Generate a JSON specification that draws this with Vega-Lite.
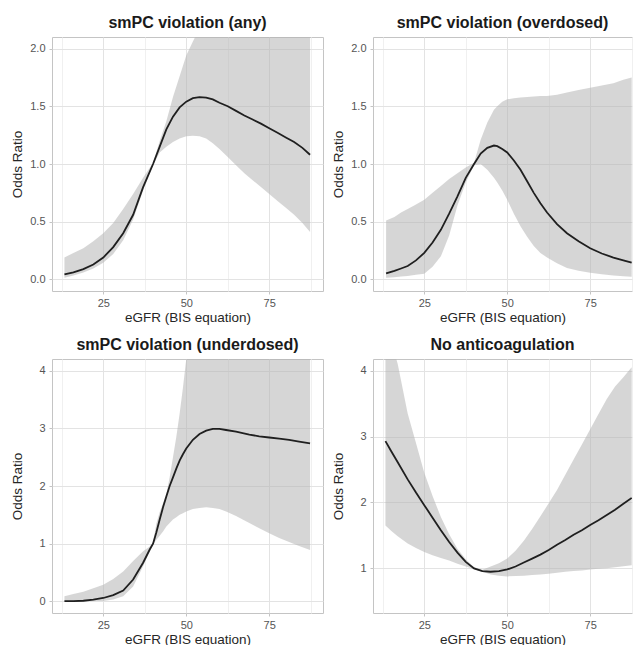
{
  "$schema": "https://vega.github.io/schema/vega-lite/v6.json",
  "padding": {"left": 9, "top": 14, "right": 0, "bottom": 0},
  "background": "white",
  "config": {
    "font": "Liberation Sans",
    "view": {"stroke": "#C4C4C4", "strokeWidth": 1},
    "axis": {"domain": false, "tickColor": "#C4C4C4", "tickSize": 3, "labelFontSize": 11, "labelColor": "#555555", "titleFontSize": 13.5, "titleFontWeight": "normal", "titleColor": "#262626", "labelOverlap": false},
    "axisX": {"labelPadding": 3, "titlePadding": 3, "minExtent": 16, "maxExtent": 16, "labelFlush": false},
    "axisY": {"labelPadding": 4, "titlePadding": 4, "minExtent": 24, "maxExtent": 24},
    "title": {"fontSize": 16, "fontWeight": "bold", "color": "#1a1a1a", "offset": 6}
  },
  "datasets": {
    "any": [
      {"eGFR": 13.3, "or": 0.043, "lo": 0.015, "hi": 0.19},
      {"eGFR": 16, "or": 0.062, "lo": 0.035, "hi": 0.23},
      {"eGFR": 19, "or": 0.09, "lo": 0.06, "hi": 0.27},
      {"eGFR": 22, "or": 0.13, "lo": 0.095, "hi": 0.33},
      {"eGFR": 25, "or": 0.19, "lo": 0.145, "hi": 0.40},
      {"eGFR": 28, "or": 0.28, "lo": 0.22, "hi": 0.49},
      {"eGFR": 31, "or": 0.40, "lo": 0.34, "hi": 0.61},
      {"eGFR": 34, "or": 0.56, "lo": 0.52, "hi": 0.74},
      {"eGFR": 37, "or": 0.80, "lo": 0.77, "hi": 0.88},
      {"eGFR": 40, "or": 1.0, "lo": 0.99, "hi": 1.01},
      {"eGFR": 42, "or": 1.15, "lo": 1.10, "hi": 1.20},
      {"eGFR": 44, "or": 1.30, "lo": 1.15, "hi": 1.37},
      {"eGFR": 46, "or": 1.41, "lo": 1.19, "hi": 1.58},
      {"eGFR": 48, "or": 1.49, "lo": 1.22, "hi": 1.76},
      {"eGFR": 50, "or": 1.54, "lo": 1.24, "hi": 1.94},
      {"eGFR": 52, "or": 1.57, "lo": 1.245, "hi": 2.06},
      {"eGFR": 54, "or": 1.58, "lo": 1.24, "hi": 2.18},
      {"eGFR": 56, "or": 1.575, "lo": 1.22, "hi": 2.3},
      {"eGFR": 58, "or": 1.56, "lo": 1.18, "hi": 2.42},
      {"eGFR": 60, "or": 1.53, "lo": 1.13, "hi": 2.55},
      {"eGFR": 62.5, "or": 1.50, "lo": 1.06, "hi": 2.7},
      {"eGFR": 65, "or": 1.46, "lo": 0.99, "hi": 2.85},
      {"eGFR": 67.5, "or": 1.42, "lo": 0.92, "hi": 3.0},
      {"eGFR": 70, "or": 1.385, "lo": 0.86, "hi": 3.15},
      {"eGFR": 72.5, "or": 1.35, "lo": 0.80, "hi": 3.3},
      {"eGFR": 75, "or": 1.31, "lo": 0.74, "hi": 3.45},
      {"eGFR": 77.5, "or": 1.27, "lo": 0.68, "hi": 3.6},
      {"eGFR": 80, "or": 1.23, "lo": 0.62, "hi": 3.75},
      {"eGFR": 82.5, "or": 1.19, "lo": 0.56, "hi": 3.9},
      {"eGFR": 85, "or": 1.14, "lo": 0.49, "hi": 4.05},
      {"eGFR": 87.3, "or": 1.08, "lo": 0.41, "hi": 4.2}
    ],
    "over": [
      {"eGFR": 13.5, "or": 0.052, "lo": 0.015, "hi": 0.51},
      {"eGFR": 16, "or": 0.075, "lo": 0.02, "hi": 0.54},
      {"eGFR": 18, "or": 0.095, "lo": 0.025, "hi": 0.58},
      {"eGFR": 20, "or": 0.116, "lo": 0.03, "hi": 0.61},
      {"eGFR": 22.5, "or": 0.165, "lo": 0.04, "hi": 0.65},
      {"eGFR": 25, "or": 0.23, "lo": 0.05, "hi": 0.69},
      {"eGFR": 27.5, "or": 0.32, "lo": 0.11, "hi": 0.75},
      {"eGFR": 30, "or": 0.43, "lo": 0.20, "hi": 0.81},
      {"eGFR": 32.5, "or": 0.57, "lo": 0.38, "hi": 0.87},
      {"eGFR": 35, "or": 0.72, "lo": 0.64, "hi": 0.92},
      {"eGFR": 37.5, "or": 0.88, "lo": 0.84, "hi": 0.97},
      {"eGFR": 40, "or": 1.0, "lo": 0.99, "hi": 1.01},
      {"eGFR": 42, "or": 1.09, "lo": 1.0, "hi": 1.21},
      {"eGFR": 44, "or": 1.14, "lo": 0.95, "hi": 1.36},
      {"eGFR": 46, "or": 1.16, "lo": 0.88, "hi": 1.47},
      {"eGFR": 47, "or": 1.155, "lo": 0.84, "hi": 1.50},
      {"eGFR": 48.5, "or": 1.13, "lo": 0.77, "hi": 1.54},
      {"eGFR": 50, "or": 1.10, "lo": 0.69, "hi": 1.56},
      {"eGFR": 52, "or": 1.03, "lo": 0.57, "hi": 1.57},
      {"eGFR": 54, "or": 0.95, "lo": 0.46, "hi": 1.575},
      {"eGFR": 56, "or": 0.85, "lo": 0.37, "hi": 1.58},
      {"eGFR": 58, "or": 0.75, "lo": 0.29, "hi": 1.585},
      {"eGFR": 60, "or": 0.66, "lo": 0.23, "hi": 1.59},
      {"eGFR": 62, "or": 0.58, "lo": 0.19, "hi": 1.59},
      {"eGFR": 65, "or": 0.48, "lo": 0.14, "hi": 1.60},
      {"eGFR": 68, "or": 0.40, "lo": 0.10, "hi": 1.62},
      {"eGFR": 71.5, "or": 0.33, "lo": 0.075, "hi": 1.64},
      {"eGFR": 75, "or": 0.27, "lo": 0.058, "hi": 1.66},
      {"eGFR": 78.5, "or": 0.225, "lo": 0.045, "hi": 1.68},
      {"eGFR": 82, "or": 0.19, "lo": 0.035, "hi": 1.70},
      {"eGFR": 85, "or": 0.165, "lo": 0.028, "hi": 1.73},
      {"eGFR": 87.5, "or": 0.145, "lo": 0.023, "hi": 1.75}
    ],
    "under": [
      {"eGFR": 13.3, "or": 0.005, "lo": 0.0, "hi": 0.09},
      {"eGFR": 16, "or": 0.007, "lo": 0.0, "hi": 0.13},
      {"eGFR": 19, "or": 0.012, "lo": 0.003, "hi": 0.17},
      {"eGFR": 22, "or": 0.03, "lo": 0.006, "hi": 0.23},
      {"eGFR": 25, "or": 0.06, "lo": 0.01, "hi": 0.29},
      {"eGFR": 28, "or": 0.11, "lo": 0.035, "hi": 0.39},
      {"eGFR": 31, "or": 0.19, "lo": 0.09, "hi": 0.52},
      {"eGFR": 34, "or": 0.38, "lo": 0.26, "hi": 0.70},
      {"eGFR": 37, "or": 0.67, "lo": 0.61, "hi": 0.87},
      {"eGFR": 39, "or": 0.9, "lo": 0.88, "hi": 0.95},
      {"eGFR": 40, "or": 1.0, "lo": 0.99, "hi": 1.03},
      {"eGFR": 41, "or": 1.2, "lo": 1.07, "hi": 1.35},
      {"eGFR": 42, "or": 1.42, "lo": 1.14, "hi": 1.55},
      {"eGFR": 43, "or": 1.63, "lo": 1.21, "hi": 1.7},
      {"eGFR": 44, "or": 1.82, "lo": 1.30, "hi": 1.86},
      {"eGFR": 45, "or": 2.0, "lo": 1.36, "hi": 2.15},
      {"eGFR": 46, "or": 2.15, "lo": 1.42, "hi": 2.5},
      {"eGFR": 47, "or": 2.3, "lo": 1.46, "hi": 2.85},
      {"eGFR": 48, "or": 2.44, "lo": 1.50, "hi": 3.25},
      {"eGFR": 49, "or": 2.55, "lo": 1.53, "hi": 3.7},
      {"eGFR": 50, "or": 2.65, "lo": 1.56, "hi": 4.2},
      {"eGFR": 52, "or": 2.8, "lo": 1.60, "hi": 5.2},
      {"eGFR": 54, "or": 2.9, "lo": 1.62, "hi": 6.0},
      {"eGFR": 56, "or": 2.96, "lo": 1.63, "hi": 6.5},
      {"eGFR": 58, "or": 2.99, "lo": 1.62, "hi": 7.0},
      {"eGFR": 60, "or": 2.99, "lo": 1.60, "hi": 7.3},
      {"eGFR": 62, "or": 2.97, "lo": 1.56, "hi": 7.5},
      {"eGFR": 65, "or": 2.94, "lo": 1.48, "hi": 7.7},
      {"eGFR": 69, "or": 2.89, "lo": 1.36, "hi": 8.0},
      {"eGFR": 72, "or": 2.86, "lo": 1.27, "hi": 8.2},
      {"eGFR": 75, "or": 2.84, "lo": 1.18, "hi": 8.4},
      {"eGFR": 78, "or": 2.82, "lo": 1.10, "hi": 8.6},
      {"eGFR": 81, "or": 2.80, "lo": 1.03, "hi": 8.8},
      {"eGFR": 84, "or": 2.77, "lo": 0.96, "hi": 9.0},
      {"eGFR": 87.3, "or": 2.74, "lo": 0.89, "hi": 9.2}
    ],
    "noac": [
      {"eGFR": 13.3, "or": 2.93, "lo": 1.65, "hi": 4.8},
      {"eGFR": 15, "or": 2.78, "lo": 1.57, "hi": 4.45},
      {"eGFR": 17, "or": 2.61, "lo": 1.49, "hi": 4.1},
      {"eGFR": 20, "or": 2.35, "lo": 1.38, "hi": 3.35},
      {"eGFR": 22.5, "or": 2.15, "lo": 1.31, "hi": 2.9},
      {"eGFR": 25, "or": 1.96, "lo": 1.25, "hi": 2.45},
      {"eGFR": 27.5, "or": 1.77, "lo": 1.2, "hi": 2.1},
      {"eGFR": 30, "or": 1.58, "lo": 1.16, "hi": 1.78},
      {"eGFR": 32.5, "or": 1.4, "lo": 1.12, "hi": 1.52},
      {"eGFR": 35, "or": 1.24, "lo": 1.07, "hi": 1.3},
      {"eGFR": 37.5, "or": 1.1, "lo": 1.03, "hi": 1.14},
      {"eGFR": 40, "or": 1.0, "lo": 0.99, "hi": 1.02},
      {"eGFR": 42.5, "or": 0.96, "lo": 0.95, "hi": 0.98},
      {"eGFR": 45, "or": 0.95, "lo": 0.91, "hi": 1.03},
      {"eGFR": 47.5, "or": 0.96, "lo": 0.89, "hi": 1.08},
      {"eGFR": 50, "or": 0.985, "lo": 0.88, "hi": 1.15},
      {"eGFR": 52.5, "or": 1.03, "lo": 0.885, "hi": 1.27},
      {"eGFR": 55, "or": 1.09, "lo": 0.89, "hi": 1.42},
      {"eGFR": 57.5, "or": 1.15, "lo": 0.9, "hi": 1.6},
      {"eGFR": 60, "or": 1.21, "lo": 0.91, "hi": 1.79},
      {"eGFR": 62.5, "or": 1.28, "lo": 0.92, "hi": 1.99},
      {"eGFR": 65, "or": 1.36, "lo": 0.935, "hi": 2.19},
      {"eGFR": 67.5, "or": 1.43, "lo": 0.95, "hi": 2.42},
      {"eGFR": 70, "or": 1.51, "lo": 0.96, "hi": 2.65},
      {"eGFR": 72.5, "or": 1.58, "lo": 0.97, "hi": 2.88},
      {"eGFR": 75, "or": 1.66, "lo": 0.985, "hi": 3.11},
      {"eGFR": 77.5, "or": 1.73, "lo": 0.995, "hi": 3.34},
      {"eGFR": 80, "or": 1.81, "lo": 1.005, "hi": 3.57},
      {"eGFR": 82.5, "or": 1.89, "lo": 1.02, "hi": 3.76},
      {"eGFR": 85, "or": 1.98, "lo": 1.035, "hi": 3.9},
      {"eGFR": 87.5, "or": 2.07, "lo": 1.05, "hi": 4.05}
    ]
  },
  "columns": 2,
  "align": "each",
  "spacing": {"row": 12, "column": 6},
  "concat": [
    {
      "title": "smPC violation (any)",
      "width": 271, "height": 254,
      "data": {"name": "any"},
      "encoding": {
        "x": {"field": "eGFR", "type": "quantitative", "title": "eGFR (BIS equation)",
          "scale": {"domain": [9.55, 91.2], "nice": false, "zero": false},
          "axis": {"values": [12.5, 25, 37.5, 50, 62.5, 75, 87.5], "labelExpr": "datum.value % 25 == 0 ? format(datum.value, '.0f') : ''",
            "gridColor": {"condition": {"test": "datum.value % 25 != 0", "value": "#F0F0F0"}, "value": "#E3E3E3"},
            "tickOpacity": {"condition": {"test": "datum.value % 25 != 0", "value": 0}, "value": 1}}}
      },
      "layer": [
        {"mark": {"type": "area", "clip": true, "color": "#B5B5B5", "opacity": 0.55},
         "encoding": {"y": {"field": "lo", "type": "quantitative", "title": "Odds Ratio",
            "scale": {"domain": [-0.1, 2.1], "nice": false, "zero": false},
            "axis": {"values": [0, 0.25, 0.5, 0.75, 1, 1.25, 1.5, 1.75, 2], "labelExpr": "datum.value % 0.5 == 0 ? format(datum.value, '.1f') : ''",
              "gridColor": {"condition": {"test": "datum.value % 0.5 != 0", "value": "#F0F0F0"}, "value": "#E3E3E3"},
              "tickOpacity": {"condition": {"test": "datum.value % 0.5 != 0", "value": 0}, "value": 1}}},
           "y2": {"field": "hi"}}},
        {"mark": {"type": "line", "clip": true, "color": "#1f1f1f", "strokeWidth": 1.8},
         "encoding": {"y": {"field": "or", "type": "quantitative"}}}
      ]
    },
    {
      "title": "smPC violation (overdosed)",
      "width": 259, "height": 254,
      "data": {"name": "over"},
      "encoding": {
        "x": {"field": "eGFR", "type": "quantitative", "title": "eGFR (BIS equation)",
          "scale": {"domain": [9.55, 87.6], "nice": false, "zero": false},
          "axis": {"values": [12.5, 25, 37.5, 50, 62.5, 75, 87.5], "labelExpr": "datum.value % 25 == 0 ? format(datum.value, '.0f') : ''",
            "gridColor": {"condition": {"test": "datum.value % 25 != 0", "value": "#F0F0F0"}, "value": "#E3E3E3"},
            "tickOpacity": {"condition": {"test": "datum.value % 25 != 0", "value": 0}, "value": 1}}}
      },
      "layer": [
        {"mark": {"type": "area", "clip": true, "color": "#B5B5B5", "opacity": 0.55},
         "encoding": {"y": {"field": "lo", "type": "quantitative", "title": "Odds Ratio",
            "scale": {"domain": [-0.1, 2.1], "nice": false, "zero": false},
            "axis": {"values": [0, 0.25, 0.5, 0.75, 1, 1.25, 1.5, 1.75, 2], "labelExpr": "datum.value % 0.5 == 0 ? format(datum.value, '.1f') : ''",
              "gridColor": {"condition": {"test": "datum.value % 0.5 != 0", "value": "#F0F0F0"}, "value": "#E3E3E3"},
              "tickOpacity": {"condition": {"test": "datum.value % 0.5 != 0", "value": 0}, "value": 1}}},
           "y2": {"field": "hi"}}},
        {"mark": {"type": "line", "clip": true, "color": "#1f1f1f", "strokeWidth": 1.8},
         "encoding": {"y": {"field": "or", "type": "quantitative"}}}
      ]
    },
    {
      "title": "smPC violation (underdosed)",
      "width": 271, "height": 254,
      "data": {"name": "under"},
      "encoding": {
        "x": {"field": "eGFR", "type": "quantitative", "title": "eGFR (BIS equation)",
          "scale": {"domain": [9.55, 91.2], "nice": false, "zero": false},
          "axis": {"values": [12.5, 25, 37.5, 50, 62.5, 75, 87.5], "labelExpr": "datum.value % 25 == 0 ? format(datum.value, '.0f') : ''",
            "gridColor": {"condition": {"test": "datum.value % 25 != 0", "value": "#F0F0F0"}, "value": "#E3E3E3"},
            "tickOpacity": {"condition": {"test": "datum.value % 25 != 0", "value": 0}, "value": 1}}}
      },
      "layer": [
        {"mark": {"type": "area", "clip": true, "color": "#B5B5B5", "opacity": 0.55},
         "encoding": {"y": {"field": "lo", "type": "quantitative", "title": "Odds Ratio",
            "scale": {"domain": [-0.2, 4.2], "nice": false, "zero": false},
            "axis": {"values": [0, 0.5, 1, 1.5, 2, 2.5, 3, 3.5, 4], "labelExpr": "datum.value % 1 == 0 ? format(datum.value, '.0f') : ''",
              "gridColor": {"condition": {"test": "datum.value % 1 != 0", "value": "#F0F0F0"}, "value": "#E3E3E3"},
              "tickOpacity": {"condition": {"test": "datum.value % 1 != 0", "value": 0}, "value": 1}}},
           "y2": {"field": "hi"}}},
        {"mark": {"type": "line", "clip": true, "color": "#1f1f1f", "strokeWidth": 1.8},
         "encoding": {"y": {"field": "or", "type": "quantitative"}}}
      ]
    },
    {
      "title": "No anticoagulation",
      "width": 259, "height": 254,
      "data": {"name": "noac"},
      "encoding": {
        "x": {"field": "eGFR", "type": "quantitative", "title": "eGFR (BIS equation)",
          "scale": {"domain": [9.55, 87.6], "nice": false, "zero": false},
          "axis": {"values": [12.5, 25, 37.5, 50, 62.5, 75, 87.5], "labelExpr": "datum.value % 25 == 0 ? format(datum.value, '.0f') : ''",
            "gridColor": {"condition": {"test": "datum.value % 25 != 0", "value": "#F0F0F0"}, "value": "#E3E3E3"},
            "tickOpacity": {"condition": {"test": "datum.value % 25 != 0", "value": 0}, "value": 1}}}
      },
      "layer": [
        {"mark": {"type": "area", "clip": true, "color": "#B5B5B5", "opacity": 0.55},
         "encoding": {"y": {"field": "lo", "type": "quantitative", "title": "Odds Ratio",
            "scale": {"domain": [0.325, 4.175], "nice": false, "zero": false},
            "axis": {"values": [1, 2, 3, 4], "format": "d", "gridColor": "#E3E3E3"}},
           "y2": {"field": "hi"}}},
        {"mark": {"type": "line", "clip": true, "color": "#1f1f1f", "strokeWidth": 1.8},
         "encoding": {"y": {"field": "or", "type": "quantitative"}}}
      ]
    }
  ]
}
